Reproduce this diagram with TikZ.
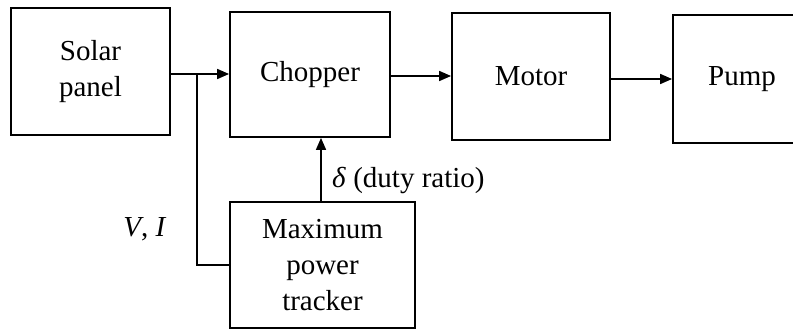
\documentclass[tikz,border=0pt]{standalone}
\usepackage{fontspec}
\setmainfont{Liberation Serif}
\usetikzlibrary{arrows.meta}
\begin{document}
\begin{tikzpicture}[x=1pt,y=-1pt,
  blockbox/.style={draw,line width=1.8pt,minimum width=#1,inner sep=0pt,align=center,font=\fontsize{29}{36}\selectfont},
  conn/.style={line width=1.6pt},
  arr/.style={conn,-{Triangle[length=12pt,width=10pt]}},
  lbl/.style={font=\fontsize{29}{32}\selectfont,inner sep=0pt}]
\useasboundingbox (0,0) rectangle (793,331);
\clip (0,0) rectangle (793,331);
\node[blockbox=159pt,minimum height=127pt] (solar) at (90.5,71.5) {Solar\\panel};
\node[blockbox=160pt,minimum height=125pt] (chop) at (310,74.5) {Chopper};
\node[blockbox=158pt,minimum height=127pt] (motor) at (531,76.5) {Motor};
\node[blockbox=138pt,minimum height=128pt] (pump) at (742,79) {Pump};
\node[blockbox=185pt,minimum height=126pt] (mpt) at (322.5,265) {Maximum\\power\\tracker};
\coordinate (j) at (197,74);
\draw[arr] (solar.east |- j) -- (chop.west |- j);
\draw[conn] (mpt.west) -| (j);
\draw[arr] (chop.east |- 0,76) -- (motor.west |- 0,76);
\draw[arr] (motor.east |- 0,79) -- (pump.west |- 0,79);
\draw[arr] (mpt.north -| 321,0) -- (chop.south -| 321,0);
\node[lbl,anchor=west] (delta) at (332,180) {\textit{δ} (duty ratio)};
\node[lbl] (vi) at (145,229) {\textit{V}, \textit{I}};
\end{tikzpicture}
\end{document}
